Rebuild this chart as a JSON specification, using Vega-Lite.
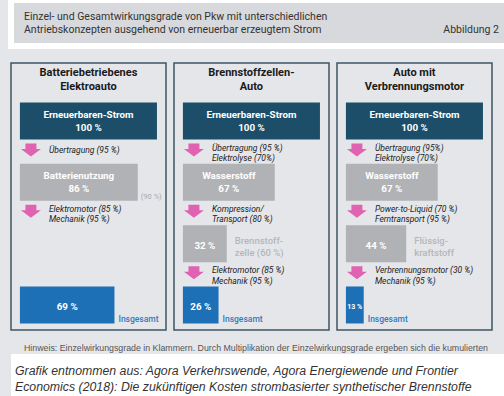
{
  "$schema": "https://vega.github.io/schema/vega-lite/v6.json",
  "background": "#e5e6ea",
  "padding": {"left": -3, "top": -3, "right": 0, "bottom": 0},
  "spacing": 13,
  "config": {"view": {"stroke": null}, "font": "Roboto"},
  "vconcat": [
    {
      "width": 501,
      "height": 46,
      "view": {"fill": "#d8d9dc", "stroke": "white", "strokeWidth": 6},
      "data": {"values": [
        {"part": "title", "line": 1, "text": "Einzel- und Gesamtwirkungsgrade von Pkw mit unterschiedlichen"},
        {"part": "title", "line": 2, "text": "Antriebskonzepten ausgehend von erneuerbar erzeugtem Strom"},
        {"part": "figure", "line": 2, "text": "Abbildung 2"}
      ]},
      "encoding": {
        "x": {"field": "part", "type": "nominal", "scale": {"type": "point", "domain": ["title", "figure"], "range": [13, 488], "padding": 0}, "axis": null},
        "y": {"field": "line", "type": "ordinal", "scale": {"type": "point", "domain": [1, 2], "range": [19.5, 33], "padding": 0}, "axis": null},
        "text": {"field": "text"}
      },
      "layer": [
        {"transform": [{"filter": "datum.part === 'title'"}],
         "mark": {"type": "text", "align": "left", "baseline": "alphabetic", "font": "Roboto", "fontSize": 10.5, "color": "#333333"}},
        {"transform": [{"filter": "datum.part === 'figure'"}],
         "mark": {"type": "text", "align": "right", "baseline": "alphabetic", "font": "Roboto", "fontSize": 10.5, "color": "#333333"}}
      ]
    },
    {
      "data": {"values": [
        {"concept": "Batteriebetriebenes Elektroauto", "type": "title", "stage": 0, "text": "Batteriebetriebenes\nElektroauto"},
        {"concept": "Batteriebetriebenes Elektroauto", "type": "box", "stage": 1, "kind": "source", "pct": 100, "label": "Erneuerbaren-Strom\n100 %"},
        {"concept": "Batteriebetriebenes Elektroauto", "type": "step", "stage": 1, "text": "Übertragung (95 %)"},
        {"concept": "Batteriebetriebenes Elektroauto", "type": "box", "stage": 2, "kind": "carrier", "pct": 86, "label": "Batterienutzung\n86 %", "note": "(90 %)"},
        {"concept": "Batteriebetriebenes Elektroauto", "type": "step", "stage": 2, "text": "Elektromotor (85 %)\nMechanik (95 %)"},
        {"concept": "Batteriebetriebenes Elektroauto", "type": "box", "stage": 4, "kind": "total", "pct": 69, "label": "69 %", "note": "Insgesamt"},

        {"concept": "Brennstoffzellen-Auto", "type": "title", "stage": 0, "text": "Brennstoffzellen-\nAuto"},
        {"concept": "Brennstoffzellen-Auto", "type": "box", "stage": 1, "kind": "source", "pct": 100, "label": "Erneuerbaren-Strom\n100 %"},
        {"concept": "Brennstoffzellen-Auto", "type": "step", "stage": 1, "text": "Übertragung (95 %)\nElektrolyse (70%)"},
        {"concept": "Brennstoffzellen-Auto", "type": "box", "stage": 2, "kind": "carrier", "pct": 67, "label": "Wasserstoff\n67 %"},
        {"concept": "Brennstoffzellen-Auto", "type": "step", "stage": 2, "text": "Kompression/\nTransport (80 %)"},
        {"concept": "Brennstoffzellen-Auto", "type": "box", "stage": 3, "kind": "carrier", "pct": 32, "label": "32 %", "note": "Brennstoff-\nzelle (60 %)"},
        {"concept": "Brennstoffzellen-Auto", "type": "step", "stage": 3, "text": "Elektromotor (85 %)\nMechanik (95 %)"},
        {"concept": "Brennstoffzellen-Auto", "type": "box", "stage": 4, "kind": "total", "pct": 26, "label": "26 %", "note": "Insgesamt"},

        {"concept": "Auto mit Verbrennungsmotor", "type": "title", "stage": 0, "text": "Auto mit\nVerbrennungsmotor"},
        {"concept": "Auto mit Verbrennungsmotor", "type": "box", "stage": 1, "kind": "source", "pct": 100, "label": "Erneuerbaren-Strom\n100 %"},
        {"concept": "Auto mit Verbrennungsmotor", "type": "step", "stage": 1, "text": "Übertragung (95%)\nElektrolyse (70%)"},
        {"concept": "Auto mit Verbrennungsmotor", "type": "box", "stage": 2, "kind": "carrier", "pct": 67, "label": "Wasserstoff\n67 %"},
        {"concept": "Auto mit Verbrennungsmotor", "type": "step", "stage": 2, "text": "Power-to-Liquid (70 %)\nFerntransport (95 %)"},
        {"concept": "Auto mit Verbrennungsmotor", "type": "box", "stage": 3, "kind": "carrier", "pct": 44, "label": "44 %", "note": "Flüssig-\nkraftstoff"},
        {"concept": "Auto mit Verbrennungsmotor", "type": "step", "stage": 3, "text": "Verbrennungsmotor (30 %)\nMechanik (95 %)"},
        {"concept": "Auto mit Verbrennungsmotor", "type": "box", "stage": 4, "kind": "total", "pct": 13, "label": "13 %", "note": "Insgesamt"}
      ]},
      "facet": {"column": {"field": "concept", "type": "nominal", "sort": ["Batteriebetriebenes Elektroauto", "Brennstoffzellen-Auto", "Auto mit Verbrennungsmotor"], "header": null}},
      "spacing": 6,
      "spec": {
        "width": 155,
        "height": 267,
        "view": {"stroke": "#3f5666", "strokeWidth": 1.5},
        "encoding": {
          "y": {"field": "stage", "type": "quantitative",
                "scale": {"domain": [0.054, 4.408], "reverse": true, "nice": false, "zero": false, "padding": 0},
                "axis": {"labels": false, "ticks": false, "domain": false, "grid": false, "title": null, "minExtent": 13, "maxExtent": 13}}
        },
        "resolve": {"scale": {"x": "independent"}},
        "layer": [
          {
            "transform": [{"filter": "datum.type === 'box'"}],
            "mark": {"type": "bar", "orient": "horizontal", "height": 37},
            "encoding": {
              "x": {"field": "pct", "type": "quantitative", "scale": {"domain": [-6.5, 106.6], "nice": false, "zero": false, "padding": 0}, "axis": null},
              "x2": {"datum": 0},
              "color": {"field": "kind", "type": "nominal", "scale": {"domain": ["source", "carrier", "total"], "range": ["#1d4e69", "#b1b2b5", "#1d6fb6"]}, "legend": null}
            }
          },
          {
            "transform": [{"filter": "datum.type === 'box' && indexof(datum.label, '\\n') >= 0"}],
            "mark": {"type": "text", "align": "center", "baseline": "middle", "dy": -6.5, "font": "Roboto", "fontWeight": "bold", "fontSize": 9.8, "lineHeight": 13, "lineBreak": "\n", "color": "#ffffff"},
            "encoding": {
              "x": {"field": "pct", "type": "quantitative", "scale": {"domain": [-13, 213.2], "nice": false, "zero": false, "padding": 0}, "axis": null},
              "text": {"field": "label"}
            }
          },
          {
            "transform": [{"filter": "datum.type === 'box' && indexof(datum.label, '\\n') < 0"}],
            "mark": {"type": "text", "align": "center", "baseline": "middle", "dy": 2, "font": "Roboto", "fontWeight": "bold", "color": "#ffffff"},
            "encoding": {
              "x": {"field": "pct", "type": "quantitative", "scale": {"domain": [-13, 213.2], "nice": false, "zero": false, "padding": 0}, "axis": null},
              "text": {"field": "label"},
              "size": {"condition": {"test": "datum.pct < 20", "value": 7}, "value": 9.8}
            }
          },
          {
            "transform": [{"filter": "datum.type === 'step'"}],
            "mark": {"type": "point", "shape": "M-0.55,-0.65L0.55,-0.65L0.55,-0.1L1,-0.1L0,0.65L-1,-0.1L-0.55,-0.1Z", "filled": true, "size": 400, "color": "#e063b2", "opacity": 1, "xOffset": 11, "yOffset": 29},
            "encoding": {
              "x": {"datum": 0, "type": "quantitative", "scale": {"domain": [-6.5, 106.6], "nice": false, "zero": false, "padding": 0}, "axis": null}
            }
          },
          {
            "transform": [{"filter": "datum.type === 'step' && indexof(datum.text, '\\n') >= 0"}],
            "mark": {"type": "text", "align": "left", "baseline": "middle", "dx": 29, "dy": 26.5, "font": "Roboto", "fontStyle": "italic", "fontSize": 8.5, "lineHeight": 10.5, "lineBreak": "\n", "color": "#222222"},
            "encoding": {
              "x": {"datum": 0, "type": "quantitative", "scale": {"domain": [-6.5, 106.6], "nice": false, "zero": false, "padding": 0}, "axis": null},
              "text": {"field": "text"}
            }
          },
          {
            "transform": [{"filter": "datum.type === 'step' && indexof(datum.text, '\\n') < 0"}],
            "mark": {"type": "text", "align": "left", "baseline": "middle", "dx": 29, "dy": 29, "font": "Roboto", "fontStyle": "italic", "fontSize": 8.5, "color": "#222222"},
            "encoding": {
              "x": {"datum": 0, "type": "quantitative", "scale": {"domain": [-6.5, 106.6], "nice": false, "zero": false, "padding": 0}, "axis": null},
              "text": {"field": "text"}
            }
          },
          {
            "transform": [{"filter": "datum.type === 'title'"}],
            "mark": {"type": "text", "align": "center", "baseline": "middle", "dy": 13.8, "font": "Roboto", "fontWeight": "bold", "fontSize": 11, "lineHeight": 13.5, "lineBreak": "\n", "color": "#1a1a1a"},
            "encoding": {
              "x": {"datum": 50, "type": "quantitative", "scale": {"domain": [-6.5, 106.6], "nice": false, "zero": false, "padding": 0}, "axis": null},
              "text": {"field": "text"}
            }
          },
          {
            "transform": [{"filter": "datum.kind === 'carrier' && datum.stage === 3"}],
            "mark": {"type": "text", "align": "left", "baseline": "middle", "dx": 8, "dy": -3, "font": "Roboto", "fontWeight": 500, "fontSize": 9.5, "lineHeight": 12, "lineBreak": "\n", "color": "#b5b6b9"},
            "encoding": {
              "x": {"field": "pct", "type": "quantitative", "scale": {"domain": [-6.5, 106.6], "nice": false, "zero": false, "padding": 0}, "axis": null},
              "text": {"field": "note"}
            }
          },
          {
            "transform": [{"filter": "datum.kind === 'carrier' && datum.stage === 2 && isValid(datum.note)"}],
            "mark": {"type": "text", "align": "left", "baseline": "middle", "dx": 3, "dy": 15, "font": "Roboto", "fontSize": 7.5, "color": "#a8a9ac"},
            "encoding": {
              "x": {"field": "pct", "type": "quantitative", "scale": {"domain": [-6.5, 106.6], "nice": false, "zero": false, "padding": 0}, "axis": null},
              "text": {"field": "note"}
            }
          },
          {
            "transform": [{"filter": "datum.kind === 'total'"}],
            "mark": {"type": "text", "align": "left", "baseline": "middle", "dx": 4, "dy": 14, "font": "Roboto", "fontWeight": 500, "fontSize": 8.5, "color": "#2f7cc0"},
            "encoding": {
              "x": {"field": "pct", "type": "quantitative", "scale": {"domain": [-6.5, 106.6], "nice": false, "zero": false, "padding": 0}, "axis": null},
              "text": {"field": "note"}
            }
          }
        ]
      }
    },
    {
      "width": 504,
      "height": 45,
      "view": {"fill": "#ffffff", "stroke": null},
      "title": {"text": "Hinweis: Einzelwirkungsgrade in Klammern. Durch Multiplikation der Einzelwirkungsgrade ergeben sich die kumulierten", "anchor": "start", "dx": 13, "offset": 1, "font": "Liberation Sans", "fontSize": 8.8, "fontWeight": "normal", "color": "#555555"},
      "data": {"values": [
        {"part": "caption", "line": 1, "text": "Grafik entnommen aus: Agora Verkehrswende, Agora Energiewende und Frontier"},
        {"part": "caption", "line": 2, "text": "Economics (2018): Die zukünftigen Kosten strombasierter synthetischer Brennstoffe"}
      ]},
      "mark": {"type": "text", "align": "left", "baseline": "alphabetic", "font": "Liberation Sans", "fontStyle": "italic", "fontSize": 12.3, "color": "#333333"},
      "encoding": {
        "x": {"field": "part", "type": "nominal", "scale": {"type": "point", "domain": ["caption"], "range": [4, 4], "padding": 0}, "axis": null},
        "y": {"field": "line", "type": "ordinal", "scale": {"type": "point", "domain": [1, 2], "range": [21, 37], "padding": 0}, "axis": null},
        "text": {"field": "text"}
      }
    }
  ]
}
